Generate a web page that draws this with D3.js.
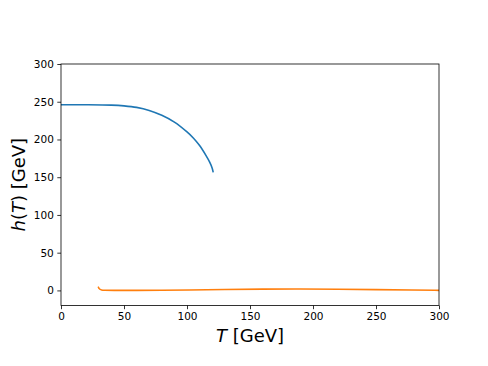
<!DOCTYPE html>
<html><head><meta charset="utf-8">
<script src="https://cdn.jsdelivr.net/npm/d3@7"></script>
<style>body{margin:0;background:#fff}svg{display:block}</style>
</head><body>
<script>
const xTicks = [0, 50, 100, 150, 200, 250, 300];
const yTicks = [0, 50, 100, 150, 200, 250, 300];
const brokenT = [0, 20, 40, 50, 60, 70, 80, 90, 100, 105, 110, 115, 118, 120, 120.8];
const brokenH = [246, 246, 245.5, 244.5, 242.5, 238.5, 232, 223, 210, 202, 192, 179, 170, 162, 156.5];
const symT = [29.5, 29.8, 30.3, 31, 32, 34, 40, 60, 80, 100, 130, 160, 190, 220, 250, 280, 300];
const symH = [5, 3.8, 2.3, 1.2, 0.6, 0.2, 0.05, 0, 0.2, 0.6, 1.2, 1.7, 1.9, 1.6, 1.0, 0.4, 0.1];

const W = 488, H = 366;
const L = 61, R = 439, T = 64, B = 305.5;
const svg = d3.select("body").append("svg").attr("width", W).attr("height", H);
const x = d3.scaleLinear().domain([0, 300]).range([L, R]);
const y = d3.scaleLinear().domain([-20, 300]).range([B, T]);

const line = d3.line().x(d => x(d[0])).y(d => y(d[1])).curve(d3.curveCatmullRom);
svg.append("path").datum(brokenT.map((t, i) => [t, brokenH[i]]))
  .attr("d", line).attr("fill", "none").attr("stroke", "#1f77b4").attr("stroke-width", 1.6);
svg.append("path").datum(symT.map((t, i) => [t, symH[i]]))
  .attr("d", d3.line().x(d => x(d[0])).y(d => y(d[1])).curve(d3.curveBasis))
  .attr("fill", "none").attr("stroke", "#ff7f0e").attr("stroke-width", 1.6);

const xa = svg.append("g").attr("transform", `translate(0,${B})`)
  .call(d3.axisBottom(x).tickValues(xTicks).tickSize(3.7).tickPadding(3.5).tickFormat(d3.format("d")));
const ya = svg.append("g").attr("transform", `translate(${L},0)`)
  .call(d3.axisLeft(y).tickValues(yTicks).tickSize(3.7).tickPadding(3.5).tickFormat(d3.format("d")));
[xa, ya].forEach(a => {
  a.select(".domain").remove();
  a.selectAll("line").attr("stroke", "#000").attr("stroke-width", 0.8);
  a.selectAll("text").attr("font-family", "DejaVu Sans").attr("font-size", 10.5).attr("fill", "#000");
});
svg.append("rect").attr("x", L).attr("y", T).attr("width", R - L).attr("height", B - T)
  .attr("fill", "none").attr("stroke", "#000").attr("stroke-width", 0.8);

const xl = svg.append("text").attr("x", (L + R) / 2).attr("y", 342).attr("text-anchor", "middle")
  .attr("font-family", "DejaVu Sans").attr("font-size", 18);
xl.append("tspan").attr("font-style", "italic").text("T");
xl.append("tspan").text(" [GeV]");
const yl = svg.append("text").attr("transform", `translate(25,${(T + B) / 2}) rotate(-90)`)
  .attr("text-anchor", "middle").attr("font-family", "DejaVu Sans").attr("font-size", 18);
yl.append("tspan").attr("font-style", "italic").text("h");
yl.append("tspan").text("(");
yl.append("tspan").attr("font-style", "italic").text("T");
yl.append("tspan").text(") [GeV]");
</script>
</body></html>
